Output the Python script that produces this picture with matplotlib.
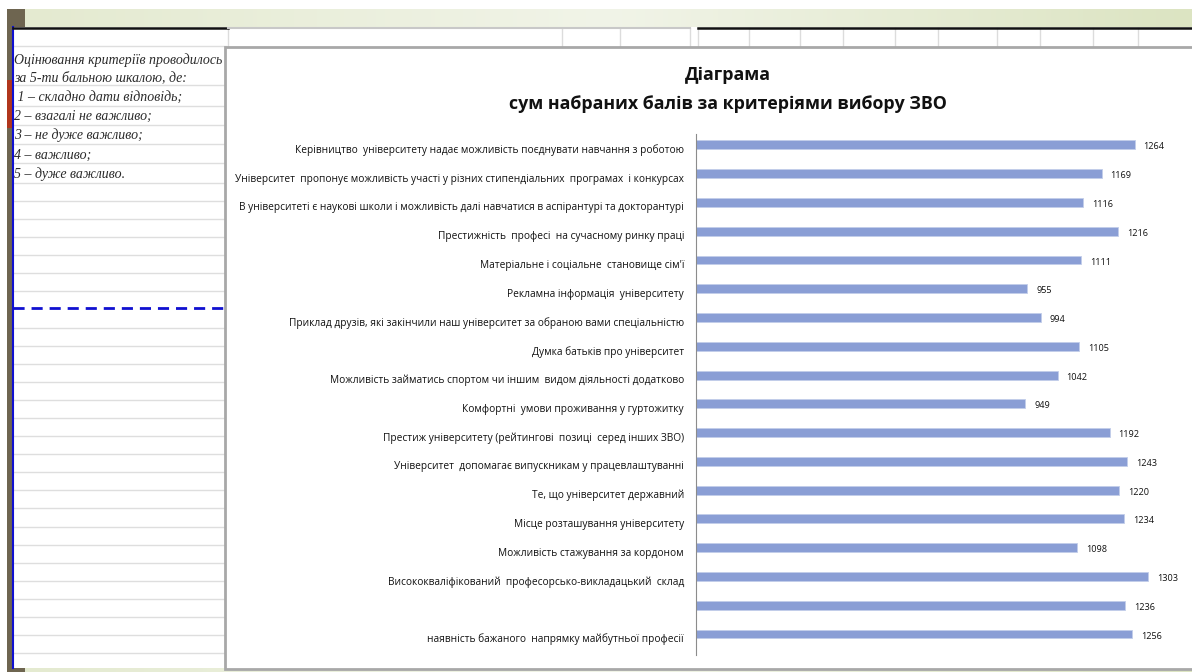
import matplotlib
matplotlib.use("Agg")
import matplotlib.pyplot as plt
import numpy as np
from matplotlib.patches import Rectangle
from matplotlib.colors import LinearSegmentedColormap
from matplotlib.transforms import ScaledTranslation

# дані діаграми (зверху вниз)
categories = [
    "Керівництво  університету надає можливість поєднувати навчання з роботою",
    "Університет  пропонує можливість участі у різних стипендіальних  програмах  і конкурсах",
    "В університеті є наукові школи і можливість далі навчатися в аспірантурі та докторантурі",
    "Престижність  професі  на сучасному ринку праці",
    "Матеріальне і соціальне  становище сім'ї",
    "Рекламна інформація  університету",
    "Приклад друзів, які закінчили наш університет за обраною вами спеціальністю",
    "Думка батьків про університет",
    "Можливість займатись спортом чи іншим  видом діяльності додатково",
    "Комфортні  умови проживання у гуртожитку",
    "Престиж університету (рейтингові  позиці  серед інших ЗВО)",
    "Університет  допомагає випускникам у працевлаштуванні",
    "Те, що університет державний",
    "Місце розташування університету",
    "Можливість стажування за кордоном",
    "Висококваліфікований  професорсько-викладацький  склад",
    "",
    "наявність бажаного  напрямку майбутньої професії",
]
values = [1264, 1169, 1116, 1216, 1111, 955, 994, 1105, 1042, 949,
          1192, 1243, 1220, 1234, 1098, 1303, 1236, 1256]

title_lines = ["Діаграма", "сум набраних балів за критеріями вибору ЗВО"]

note_lines = [
    "Оцінювання критеріїв проводилось",
    "за 5-ти бальною шкалою, де:",
    " 1 – складно дати відповідь;",
    "2 – взагалі не важливо;",
    "3 – не дуже важливо;",
    "4 – важливо;",
    "5 – дуже важливо.",
]

plt.rcParams['font.family'] = ['Open Sans', 'DejaVu Sans']

W, H = 1192, 672
fig = plt.figure(figsize=(W / 100, H / 100), dpi=100)

# фон: слайд + аркуш Excel (піксельні координати)
bg = fig.add_axes([0, 0, 1, 1])
grad = np.linspace(0, 1, 256).reshape(1, -1)
cmap = LinearSegmentedColormap.from_list('g', ['#e4ead0', '#f1f4e8', '#dce4c2'])
bg.imshow(grad, extent=(25, W, 27, 9), cmap=cmap, aspect='auto', zorder=1)
bg.imshow(grad, extent=(25, W, 672, 668), cmap=cmap, aspect='auto', zorder=1)
bg.set_xlim(0, W)
bg.set_ylim(H, 0)
bg.axis('off')

bg.add_patch(Rectangle((7, 9), 18, 18, fc='#6e6550', ec='none', zorder=2))
bg.add_patch(Rectangle((7, 668), 18, 4, fc='#6e6550', ec='none', zorder=2))
bg.add_patch(Rectangle((7, 27), 5, 641, fc='#6e6550', ec='none', zorder=2))
bg.add_patch(Rectangle((7, 80), 5, 48, fc='#b0361c', ec='none', zorder=2))
bg.plot([12.8, 12.8], [27, 668], color='#1010d0', lw=1.5, zorder=3)

# сітка аркуша
rows = [46, 85, 106, 125, 144, 163] + [183 + 18.08 * k for k in range(27) if k != 7]
for yy in rows:
    bg.plot([13, 226], [yy, yy], color='#dedede', lw=1, zorder=2)
bg.plot([13, 226], [308, 308], color='#1010d0', lw=2, ls=(0, (4, 2.5)), zorder=3)
for xx in [228, 562, 620, 690, 698, 749, 800, 843, 895, 938, 997, 1040, 1093, 1138]:
    bg.plot([xx, xx], [28, 46], color='#dcdcdc', lw=1, zorder=2)
bg.plot([13, 228], [28, 28], color='#111111', lw=1.8, zorder=3)
bg.plot([228, 690], [28, 28], color='#c8c8c8', lw=1.5, zorder=3)
bg.plot([698, W], [28, 28], color='#111111', lw=1.8, zorder=3)

note_y = [60, 78, 97, 116, 135, 155, 174]
for s, yy in zip(note_lines, note_y):
    bg.text(14, yy, s, family=['Liberation Serif', 'DejaVu Serif'], style='italic',
            fontsize=10, color='#2a2a2a', va='center', zorder=4)

# рамка діаграми
bg.add_patch(Rectangle((225, 47), 980, 622, fc='white', ec='#a8a8a8', lw=2, zorder=5))
bg.text(728, 75, title_lines[0], ha='center', va='center', fontsize=12.8,
        weight='bold', color='#111111', zorder=6)
bg.text(728, 104, title_lines[1], ha='center', va='center', fontsize=12.8,
        weight='bold', color='#111111', zorder=6)

# стовпчикова діаграма
ax = fig.add_axes([696 / W, 1 - 655 / H, 484 / W, 521 / H])
ax.set_facecolor('none')
y = np.arange(len(values))
ax.barh(y, values, height=0.31, color='#8a9ed5', edgecolor='#c2cdea', linewidth=0.6)
ax.set_xlim(0, 1395)
ax.set_ylim(17.73, -0.38)
for side in ['top', 'right', 'bottom']:
    ax.spines[side].set_visible(False)
ax.spines['left'].set_color('#8c8c8c')
ax.set_xticks([])
ax.set_yticks(y)
ax.set_yticklabels(categories, fontsize=7.3, color='#111111')
ax.tick_params(axis='y', length=0, pad=8.6)
for lbl in ax.get_yticklabels():
    lbl.set_transform(lbl.get_transform() + ScaledTranslation(0, -0.04, fig.dpi_scale_trans))

for yi, v in zip(y, values):
    ax.text(v + 26, yi + 0.07, str(v), va='center', fontsize=6.6, color='#111111')

fig.savefig('out.png', dpi=100)
